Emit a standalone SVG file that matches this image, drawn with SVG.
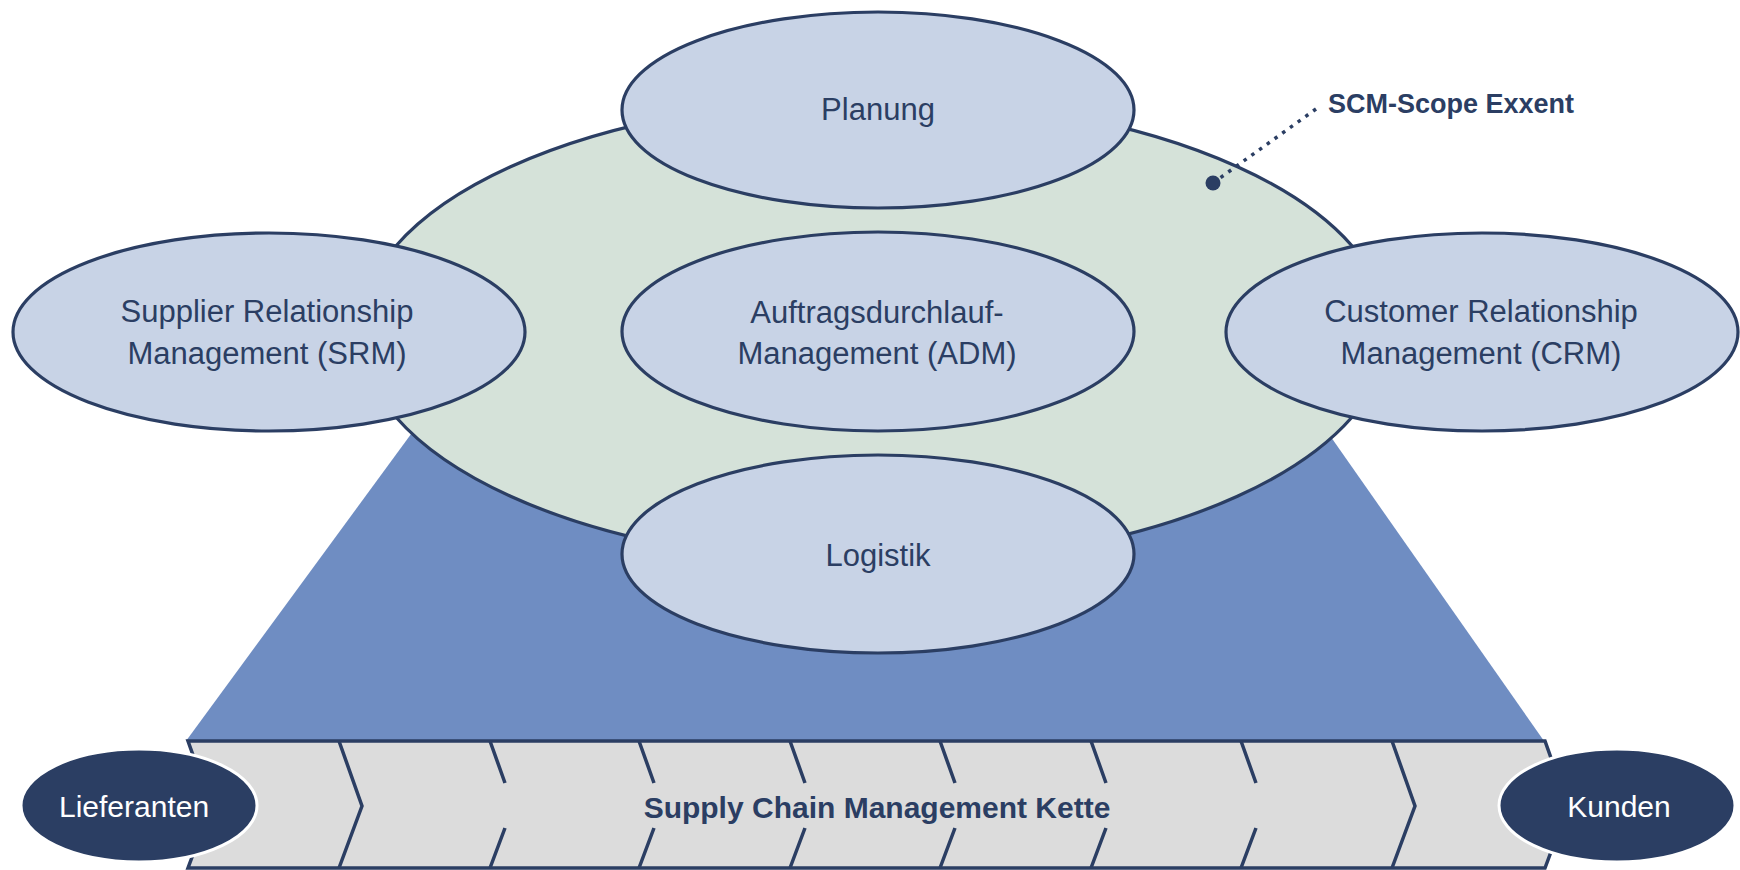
<svg xmlns="http://www.w3.org/2000/svg" width="1740" height="870" viewBox="0 0 1740 870">
<defs>
<style>
.node{fill:#C8D3E6;stroke:#2B3E63;stroke-width:3.2}
.lbl{font-family:'Liberation Sans',Arial,sans-serif;font-size:31px;fill:#2B3E63;text-anchor:middle}
.chev{fill:none;stroke:#2B3E63;stroke-width:3.5;stroke-linejoin:miter}
.end{fill:#2B3E63;stroke:#FFFFFF;stroke-width:3}
.endlbl{font-family:'Liberation Sans',Arial,sans-serif;font-size:30px;fill:#FFFFFF}
.bold{font-family:'Liberation Sans',Arial,sans-serif;font-weight:bold;fill:#2B3E63}
</style>
</defs>
<rect width="1740" height="870" fill="#FFFFFF"/>
<g id="scope-base">
<polygon points="186,741 436,400 1305,400 1544,741" fill="#6F8DC2"/>
</g>
<g id="scm-scope">
<ellipse cx="874" cy="331.5" rx="514" ry="233" fill="#D5E2D9" stroke="#2B3E63" stroke-width="3.2"/>
</g>
<g id="planung">
<ellipse class="node" cx="878" cy="110" rx="256" ry="98"/>
<text class="lbl" x="878" y="120">Planung</text>
</g>
<g id="srm">
<ellipse class="node" cx="269" cy="332" rx="256" ry="99"/>
<text class="lbl" x="267" y="322">Supplier Relationship</text>
<text class="lbl" x="267" y="364">Management (SRM)</text>
</g>
<g id="crm">
<ellipse class="node" cx="1482" cy="332" rx="256" ry="99"/>
<text class="lbl" x="1481" y="322">Customer Relationship</text>
<text class="lbl" x="1481" y="364">Management (CRM)</text>
</g>
<g id="adm">
<ellipse class="node" cx="878" cy="331.5" rx="256" ry="99.5"/>
<text class="lbl" x="877" y="323">Auftragsdurchlauf-</text>
<text class="lbl" x="877" y="364">Management (ADM)</text>
</g>
<g id="logistik">
<ellipse class="node" cx="878" cy="554" rx="256" ry="99"/>
<text class="lbl" x="878" y="566">Logistik</text>
</g>
<g id="chain">
<polygon points="188,741 1545,741 1568,806 1545,868 188,868 211,806" fill="#DCDCDC" stroke="#2B3E63" stroke-width="3.5"/>
<path class="chev" d="M339,741 L362,806 L339,868 M1392,741 L1415,806 L1392,868"/>
<path class="chev" d="M490,741 L505,783 M505,828 L490,868 M639,741 L654,783 M654,828 L639,868 M790,741 L805,783 M805,828 L790,868 M940,741 L955,783 M955,828 L940,868 M1091,741 L1106,783 M1106,828 L1091,868 M1241,741 L1256,783 M1256,828 L1241,868"/>
<text class="bold" x="877" y="818" font-size="30" text-anchor="middle">Supply Chain Management Kette</text>
</g>
<g id="lieferanten">
<ellipse class="end" cx="139" cy="805.5" rx="118" ry="56.5"/>
<text class="endlbl" x="59" y="817">Lieferanten</text>
</g>
<g id="kunden">
<ellipse class="end" cx="1617" cy="805.5" rx="118" ry="56.5"/>
<text class="endlbl" x="1619" y="817" text-anchor="middle">Kunden</text>
</g>
<g id="connectors">
<line x1="1316" y1="109" x2="1213" y2="183" stroke="#2B3E63" stroke-width="3.5" stroke-dasharray="3.5 6"/>
<circle cx="1213" cy="183" r="7.5" fill="#2B3E63"/>
</g>
<g id="scope-label">
<text class="bold" x="1328" y="113" font-size="27">SCM-Scope Exxent</text>
</g>
</svg>
